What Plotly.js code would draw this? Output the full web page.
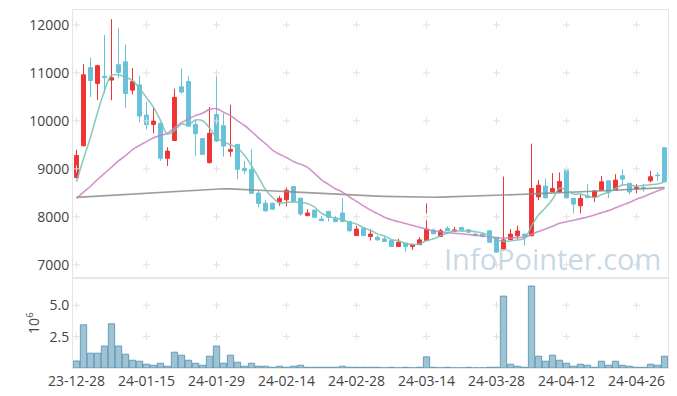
<!DOCTYPE html>
<html><head><meta charset="utf-8">
<script src="https://cdn.plot.ly/plotly-3.0.1.min.js"></script>
<style>html,body{margin:0;padding:0;background:#fff}#chart{width:677px;height:396px}</style>
</head><body><div id="chart"></div>
<script>
const dates = ['23-12-28','24-01-02','24-01-03','24-01-04','24-01-05','24-01-08','24-01-09','24-01-10','24-01-11','24-01-12',
'24-01-15','24-01-16','24-01-17','24-01-18','24-01-19','24-01-22','24-01-23','24-01-24','24-01-25','24-01-26',
'24-01-29','24-01-30','24-01-31','24-02-01','24-02-02','24-02-05','24-02-06','24-02-07','24-02-08','24-02-13',
'24-02-14','24-02-15','24-02-16','24-02-19','24-02-20','24-02-21','24-02-22','24-02-23','24-02-26','24-02-27',
'24-02-28','24-02-29','24-03-04','24-03-05','24-03-06','24-03-07','24-03-08','24-03-11','24-03-12','24-03-13',
'24-03-14','24-03-15','24-03-18','24-03-19','24-03-20','24-03-21','24-03-22','24-03-25','24-03-26','24-03-27',
'24-03-28','24-03-29','24-04-01','24-04-02','24-04-03','24-04-04','24-04-05','24-04-08','24-04-09','24-04-11',
'24-04-12','24-04-15','24-04-16','24-04-17','24-04-18','24-04-19','24-04-22','24-04-23','24-04-24','24-04-25',
'24-04-26','24-04-29','24-04-30','24-05-02','24-05-03'];

const open  = [8820,9480,11110,10780,10930,10850,11170,11230,10640,10750,
10120,9925,9950,9220,9590,10710,10820,9925,9630,9130,
10130,9900,9365,9510,9010,8990,8495,8285,8285,8310,
8355,8630,8390,8025,8140,7955,8115,7970,8080,7900,
7610,7765,7590,7575,7540,7505,7380,7450,7380,7420,
7505,7725,7590,7760,7700,7780,7730,7640,7640,7710,
7575,7330,7525,7605,7640,7605,8415,8640,8520,8520,
8975,8385,8230,8435,8415,8555,8750,8555,8855,8700,
8590,8610,8750,8870,9440];
const high  = [9400,11180,11320,11170,11790,12120,11930,11590,11100,10940,
10400,10290,9960,9450,10670,11090,10930,10030,9640,10290,
10980,10150,10335,9510,9165,9405,8560,8350,8290,8440,
8610,8640,8395,8160,8145,8020,8125,8020,8385,7905,
7815,7770,7745,7610,7600,7510,7540,7455,7420,7575,
8280,7760,7750,7800,7790,7790,7740,7650,7650,7720,
7580,8840,7745,7815,7650,9525,8765,8800,8910,8925,
8980,8390,8470,8680,8560,8850,8755,8890,8990,8705,
8680,8680,8960,8935,9445];
const low   = [8800,9470,10500,10430,10570,10430,10890,10270,10550,9970,
9820,9740,9170,9060,9590,10570,9880,9270,9290,9110,
9560,9255,9255,8785,8890,8480,8195,8105,8140,8230,
8215,8315,8020,8010,7985,7910,7905,7890,7885,7690,
7605,7600,7505,7500,7480,7375,7375,7275,7310,7415,
7500,7640,7580,7705,7690,7720,7670,7600,7570,7460,
7255,7290,7520,7540,7400,7600,8350,8390,8515,8515,
8390,8070,8070,8395,8310,8550,8390,8550,8680,8470,
8490,8520,8715,8750,8725];
const close = [9280,10960,10840,11150,10900,10900,11010,10570,10820,10100,
9920,9995,9220,9370,10490,10600,9890,9730,9300,9740,
9580,9475,9405,8990,8960,8490,8280,8125,8160,8385,
8555,8320,8060,8080,7990,7920,7990,7900,7905,7710,
7745,7610,7640,7520,7485,7380,7470,7380,7415,7520,
7745,7645,7710,7710,7725,7725,7680,7605,7590,7470,
7265,7520,7640,7705,7595,8590,8660,8395,8590,8735,
8395,8265,8385,8400,8540,8730,8510,8765,8785,8520,
8610,8600,8835,8860,8730];
// volume in millions of shares
const volumeM = [0.56,3.44,1.18,1.18,1.75,3.52,1.75,1.10,0.62,0.54,
0.30,0.22,0.38,0.14,1.26,1.02,0.62,0.38,0.22,0.94,
1.75,0.38,1.02,0.46,0.14,0.38,0.14,0.14,0.06,0.14,
0.06,0.14,0.22,0.06,0.06,0.06,0.06,0.06,0.14,0.06,
0.06,0.06,0.06,0.06,0.015,0.06,0.015,0.06,0.015,0.06,
0.89,0.06,0.015,0.06,0.015,0.015,0.06,0.015,0.015,0.06,
0.06,5.73,0.30,0.14,0.06,6.53,0.94,0.54,1.02,0.62,
0.38,0.14,0.30,0.22,0.06,0.54,0.22,0.54,0.22,0.14,
0.06,0.06,0.30,0.22,0.94];
// moving-average values before enough visible closes exist
const ma5Head  = [8730,9210,9660,10170];
const ma20Head = [8383,8514,8638,8778,8906,9033,9166,9277,9401,9488,9567,9649,9693,9744,9851,9963,10040,10109,10157];
const ma120 = [8405,8414,8423,8432,8441,8450,8459,8468,8477,8486,
8495,8504,8513,8522,8531,8540,8550,8560,8570,8580,
8588,8586,8582,8577,8571,8564,8557,8549,8541,8533,
8525,8517,8509,8500,8492,8484,8476,8468,8461,8454,
8448,8442,8437,8432,8427,8422,8418,8414,8410,8407,
8405,8407,8410,8414,8418,8424,8430,8436,8442,8448,
8454,8458,8462,8466,8470,8478,8486,8494,8502,8508,
8514,8519,8524,8529,8534,8540,8546,8552,8560,8568,
8576,8584,8592,8600,8608];
const tickLabels = ['23-12-28','24-01-15','24-01-29','24-02-14','24-02-28','24-03-14','24-03-28','24-04-12','24-04-26'];
const priceTicks = [7000,8000,9000,10000,11000,12000];
const volTicks = [2.5,5.0];

function movingAvg(head, n){
  return close.map((c,i)=>{
    if(i < n-1) return head[i];
    let s=0; for(let k=i-n+1;k<=i;k++) s+=close[k];
    return s/n;
  });
}
const ma5 = movingAvg(ma5Head,5);
const ma20 = movingAvg(ma20Head,20);

// grid crosses at tick intersections
const gx=[],gy=[],vx=[],vy=[];
tickLabels.forEach(t=>{priceTicks.forEach(p=>{gx.push(t);gy.push(p);}); volTicks.forEach(v=>{vx.push(t);vy.push(v);});});

const crossMarker = {symbol:'cross-thin',size:5,color:'#e2e2e2',line:{color:'#e2e2e2',width:1}};
const traces = [
  {type:'candlestick',x:dates,open:open,high:high,low:low,close:close,xaxis:'x',yaxis:'y',
   increasing:{line:{color:'#ee3535',width:1},fillcolor:'#ee3535'},
   decreasing:{line:{color:'#68c2da',width:1},fillcolor:'#68c2da'},
   whiskerwidth:0,hoverinfo:'skip',showlegend:false},
  {type:'bar',x:dates,y:volumeM,xaxis:'x2',yaxis:'y2',marker:{color:'rgba(140,184,205,0.85)',line:{color:'rgba(95,150,178,0.9)',width:1}},hoverinfo:'skip',showlegend:false},
  {type:'scatter',mode:'markers',x:gx,y:gy,xaxis:'x',yaxis:'y',marker:crossMarker,hoverinfo:'skip',showlegend:false},
  {type:'scatter',mode:'markers',x:vx,y:vy,xaxis:'x2',yaxis:'y2',marker:crossMarker,hoverinfo:'skip',showlegend:false},
  {type:'scatter',mode:'lines',x:dates,y:ma120,xaxis:'x',yaxis:'y',line:{color:'rgba(140,140,140,0.85)',width:1.6},hoverinfo:'skip',showlegend:false},
  {type:'scatter',mode:'lines',x:dates,y:ma20,xaxis:'x',yaxis:'y',line:{color:'rgba(200,130,195,0.85)',width:1.6,shape:'spline'},hoverinfo:'skip',showlegend:false},
  {type:'scatter',mode:'lines',x:dates,y:ma5,xaxis:'x',yaxis:'y',line:{color:'rgba(120,195,180,0.85)',width:1.6,shape:'spline'},hoverinfo:'skip',showlegend:false}
];

const axisFont = {family:'"Open Sans", sans-serif',size:14,color:'#444'};
const layout = {
  width:677,height:396,
  margin:{l:73,r:9,t:10,b:28},
  paper_bgcolor:'#fff',plot_bgcolor:'#fff',
  showlegend:false,bargap:0.1,boxgap:0.2,
  font:axisFont,
  xaxis:{type:'category',categoryorder:'array',categoryarray:dates,domain:[0,1],anchor:'y',range:[-0.5,84.5],showticklabels:false,showgrid:false,zeroline:false,
         showline:true,mirror:true,linecolor:'#e6e6e6',linewidth:1,ticks:'',rangeslider:{visible:false},fixedrange:true},
  yaxis:{domain:[0.252,1],anchor:'x',range:[6730,12310],tickvals:priceTicks,ticktext:priceTicks.map(String),
         showgrid:false,zeroline:false,showline:true,mirror:true,linecolor:'#e6e6e6',ticks:'',tickfont:axisFont},
  xaxis2:{type:'category',categoryorder:'array',categoryarray:dates,domain:[0,1],anchor:'y2',range:[-0.5,84.5],tickvals:tickLabels,ticktext:tickLabels,
          showgrid:false,zeroline:false,showline:true,mirror:true,linecolor:'#e6e6e6',ticks:'',tickfont:axisFont,tickangle:0},
  yaxis2:{domain:[0,0.251],anchor:'x2',range:[0,7.16],tickvals:volTicks,ticktext:['2.5','5.0'],
          showgrid:false,zeroline:false,showline:true,mirror:true,linecolor:'#e6e6e6',ticks:'',tickfont:axisFont,
          title:{text:'10<sup>6</sup>',font:axisFont,standoff:6}},
  annotations:[{text:'InfoPointer.com',xref:'paper',yref:'paper',x:0.6197,y:0.307,xanchor:'left',yanchor:'middle',
    showarrow:false,font:{family:'"Open Sans", sans-serif',size:29,color:'rgba(185,207,222,0.8)'}}]
};
Plotly.newPlot('chart',traces,layout,{staticPlot:true,displayModeBar:false});
</script></body></html>
